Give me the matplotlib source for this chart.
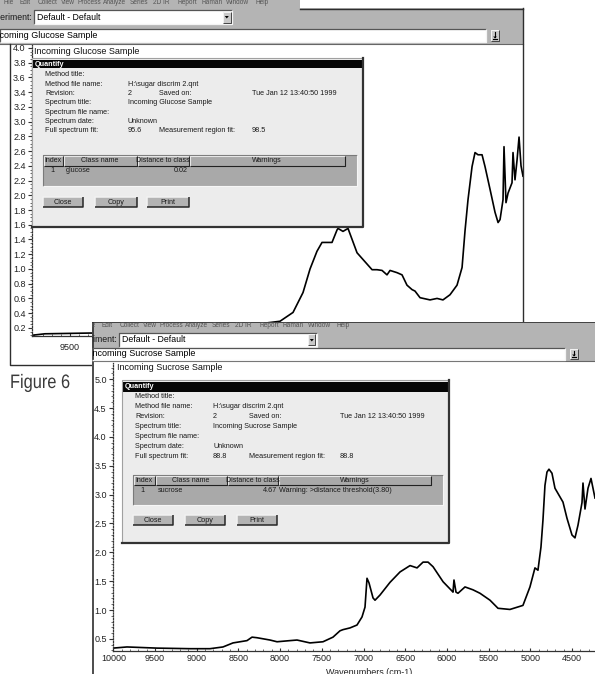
import numpy as np
import matplotlib
matplotlib.use('Agg')
import matplotlib.pyplot as plt
from matplotlib.patches import Rectangle, Polygon, PathPatch
from matplotlib.textpath import TextPath
from matplotlib.font_manager import FontProperties
from matplotlib.transforms import Affine2D
from matplotlib.ticker import MultipleLocator, FormatStrFormatter

W, H = 595, 674

# glucose NIR spectrum (wavenumber cm-1, absorbance)
glucose_wn = [9922, 9778, 9278, 8056, 7500, 7300, 7167, 7022, 6911, 6833,
              6756, 6700, 6589, 6533, 6522, 6467, 6411, 6311, 6144, 6089,
              6033, 5978, 5944, 5867, 5811, 5756, 5700, 5667, 5611, 5500,
              5422, 5356, 5278, 5200, 5144, 5111, 5078, 5033, 5000, 4967,
              4922, 4889, 4833, 4778, 4744, 4722, 4689, 4678, 4656, 4633,
              4589, 4578, 4556, 4533, 4511, 4489, 4467]
glucose_abs = [0.10, 0.12, 0.13, 0.13, 0.20, 0.27, 0.29, 0.41, 0.68, 1.00,
               1.24, 1.36, 1.36, 1.53, 1.55, 1.51, 1.55, 1.22, 0.99, 0.99,
               0.98, 0.92, 0.98, 0.95, 0.92, 0.78, 0.72, 0.70, 0.61, 0.58,
               0.60, 0.58, 0.65, 0.78, 1.02, 1.52, 1.94, 2.39, 2.58, 2.55,
               2.55, 2.39, 2.08, 1.77, 1.63, 1.67, 1.94, 2.66, 1.90, 2.03,
               2.17, 2.58, 2.21, 2.48, 2.79, 2.40, 2.26]

# sucrose NIR spectrum
sucrose_wn = [10004, 9836, 9476, 9080, 8841, 8685, 8565, 8397, 8337, 8277,
              8121, 8037, 7881, 7797, 7642, 7486, 7366, 7282, 7246, 7162,
              7078, 7018, 6982, 6958, 6934, 6886, 6862, 6802, 6682, 6562,
              6442, 6358, 6286, 6226, 6166, 6046, 5939, 5927, 5915, 5891,
              5867, 5783, 5687, 5603, 5483, 5387, 5244, 5088, 5004, 4944,
              4908, 4872, 4848, 4824, 4800, 4776, 4740, 4704, 4644, 4608,
              4560, 4500, 4464, 4428, 4380, 4368, 4344, 4308, 4272, 4248,
              4224]
sucrose_abs = [0.34, 0.36, 0.34, 0.33, 0.33, 0.36, 0.43, 0.47, 0.53, 0.52,
               0.48, 0.45, 0.47, 0.48, 0.43, 0.45, 0.53, 0.64, 0.66, 0.69,
               0.74, 0.88, 1.05, 1.55, 1.47, 1.21, 1.17, 1.26, 1.48, 1.66,
               1.77, 1.73, 1.83, 1.83, 1.75, 1.49, 1.33, 1.31, 1.52, 1.31,
               1.29, 1.40, 1.35, 1.29, 1.17, 1.03, 1.01, 1.08, 1.40, 1.73,
               1.69, 2.09, 2.56, 3.16, 3.39, 3.44, 3.37, 3.11, 2.96, 2.87,
               2.59, 2.30, 2.25, 2.47, 2.86, 3.20, 2.75, 3.11, 3.28, 3.11,
               2.94]

menu_items = ['File', 'Edit', 'Collect', 'View', 'Process', 'Analyze', 'Series',
              '2D IR', 'Report', 'Raman', 'Window', 'Help']
experiment = 'Default - Default'
glucose_title = 'Incoming Glucose Sample'
sucrose_title = 'Incoming Sucrose Sample'

field_names = ['Method title:', 'Method file name:', 'Revision:', 'Spectrum title:',
               'Spectrum file name:', 'Spectrum date:', 'Full spectrum fit:']
glucose_fields = ['', 'H:\\sugar discrim 2.qnt', '2', glucose_title, '', 'Unknown', '95.6']
sucrose_fields = ['', 'H:\\sugar discrim 2.qnt', '2', sucrose_title, '', 'Unknown', '88.8']
saved_on = 'Tue Jan 12 13:40:50 1999'
glucose_region_fit = '98.5'
sucrose_region_fit = '88.8'
table_cols = ['Index', 'Class name', 'Distance to class', 'Warnings']
glucose_row = ['1', 'glucose', '0.02', '']
sucrose_row = ['1', 'sucrose', '4.67', 'Warning: >distance threshold(3.80)']
button_names = ['Close', 'Copy', 'Print']

SANS = ['Liberation Sans', 'DejaVu Sans']
GRAY = '#b4b4b4'
DARK = '#2e2e2e'
SMALL = 5.2

fig = plt.figure(figsize=(W / 100, H / 100), dpi=100)
fig.patch.set_facecolor('white')


def rect_frac(x0, y0, x1, y1):
    return [x0 / W, 1 - y1 / H, (x1 - x0) / W, (y1 - y0) / H]


def overlay(x0, y0, x1, y1, z):
    ax = fig.add_axes(rect_frac(x0, y0, x1, y1))
    ax.set_xlim(x0, x1)
    ax.set_ylim(y1, y0)
    ax.axis('off')
    ax.set_zorder(z)
    return ax


def box(ax, x0, y0, x1, y1, fc, ec='none', lw=0.8):
    ax.add_patch(Rectangle((x0, y0), x1 - x0, y1 - y0, fc=fc, ec=ec, lw=lw))


def bevel(ax, x0, y0, x1, y1, light, dark, lw=0.9):
    ax.plot([x0, x0, x1], [y1, y0, y0], color=light, lw=lw, solid_capstyle='butt')
    ax.plot([x0, x1, x1], [y1, y1, y0], color=dark, lw=lw, solid_capstyle='butt')


def label(ax, x, y, s, size=SMALL, **kw):
    kw.setdefault('va', 'center')
    kw.setdefault('ha', 'left')
    kw.setdefault('color', '#1a1a1a')
    ax.text(x, y, s, fontsize=size, family=SANS, clip_on=True, **kw)


def window_chrome(ax, menu_x, menu_y, exp_y, combo, field, field_btn, title_x, title):
    for name, mx in zip(menu_items, menu_x):
        label(ax, mx, menu_y, name, size=4.7, color='#555555')
    label(ax, combo[0] - 2, exp_y, 'Experiment:', size=6.3, ha='right')
    cx0, cy0, cx1, cy1 = combo
    box(ax, cx0, cy0, cx1, cy1, 'white')
    bevel(ax, cx0, cy0, cx1, cy1, '#555555', '#f4f4f4')
    box(ax, cx1 - 9, cy0 + 1.5, cx1 - 1.5, cy1 - 1.5, '#c9c9c9')
    bevel(ax, cx1 - 9, cy0 + 1.5, cx1 - 1.5, cy1 - 1.5, '#f4f4f4', '#444444', lw=0.7)
    mx = cx1 - 5.2
    my = (cy0 + cy1) / 2
    ax.add_patch(Polygon([[mx - 2, my - 1], [mx + 2, my - 1], [mx, my + 1.5]], fc='black', ec='none'))
    label(ax, cx0 + 3, exp_y, experiment, size=6.3, color='black')
    fx0, fy0, fx1, fy1 = field
    box(ax, fx0, fy0, fx1, fy1, 'white')
    bevel(ax, fx0, fy0, fx1, fy1, '#555555', '#f4f4f4')
    label(ax, title_x, (fy0 + fy1) / 2, title, size=6.5, color='black')
    bx0, by0, bx1, by1 = field_btn
    box(ax, bx0, by0, bx1, by1, '#c9c9c9')
    bevel(ax, bx0, by0, bx1, by1, '#f4f4f4', '#444444', lw=0.7)
    xc = (bx0 + bx1) / 2
    ax.plot([xc, xc], [by0 + 2, by1 - 4], color='black', lw=0.8)
    ax.add_patch(Polygon([[xc - 1.8, by1 - 4.5], [xc + 1.8, by1 - 4.5], [xc, by1 - 2.5]],
                         fc='black', ec='none'))
    ax.plot([xc - 2, xc + 2], [by1 - 2, by1 - 2], color='black', lw=0.8)


def quantify(ax, lay, values, region_fit, row):
    x0, y0, x1, y1 = lay['frame']
    box(ax, x0, y0, x1, y1, '#ececec')
    ax.plot([x0, x0, x1], [y1, y0, y0], color='#a0a0a0', lw=0.8)
    ax.plot([x0, x1, x1], [y1, y1, y0], color='#333333', lw=1.6)
    b0, b1 = lay['bar']
    box(ax, x0 + 1, b0, x1 - 1, b1, '#050505')
    label(ax, x0 + 3, (b0 + b1) / 2, 'Quantify', color='white', weight='bold', size=5.2)

    c1, c2, c3, c4 = lay['cols']
    for i, (name, val) in enumerate(zip(field_names, values)):
        y = lay['row0'] + i * lay['dy']
        label(ax, c1, y, name)
        if val:
            label(ax, c2, y, val)
    y_rev = lay['row0'] + 2 * lay['dy']
    label(ax, c3, y_rev, 'Saved on:')
    label(ax, c4, y_rev, saved_on)
    y_fit = lay['row0'] + 6 * lay['dy']
    label(ax, c3, y_fit, 'Measurement region fit:')
    label(ax, c4, y_fit, region_fit)

    tx0, ty0, tx1, ty1 = lay['table']
    box(ax, tx0, ty0, tx1, ty1, '#a9a9a9')
    bevel(ax, tx0, ty0, tx1, ty1, '#7a7a7a', '#f6f6f6', lw=0.8)
    hy1 = ty0 + lay['head_h']
    edges = lay['cells']
    for name, cx0, cx1 in zip(table_cols, edges[:-1], edges[1:]):
        bevel(ax, cx0 + 0.5, ty0 + 0.5, cx1, hy1, '#e6e6e6', '#222222', lw=0.8)
        label(ax, (cx0 + cx1) / 2, (ty0 + hy1) / 2, name, ha='center', size=5.0)
    ry = lay['row_y']
    label(ax, edges[0] + 9, ry, row[0], ha='center')
    label(ax, edges[1] + 3, ry, row[1])
    label(ax, edges[3] - 1, ry, row[2], ha='right')
    if row[3]:
        label(ax, edges[3] + 1, ry, row[3])

    by0, by1 = lay['btn_y']
    for name, (bx0, bx1) in zip(button_names, lay['btn_x']):
        box(ax, bx0, by0, bx1, by1, '#b3b3b3')
        bevel(ax, bx0, by0, bx1, by1, '#f2f2f2', '#262626', lw=1.1)
        label(ax, (bx0 + bx1) / 2, (by0 + by1) / 2, name, ha='center')


def style_spectrum_axes(ax, ymajor, yminor):
    for side in ('top', 'right'):
        ax.spines[side].set_visible(False)
    ax.spines['left'].set_linestyle((0, (1, 1.3)))
    ax.spines['left'].set_linewidth(0.9)
    ax.spines['left'].set_color('#333333')
    ax.spines['bottom'].set_linewidth(0.9)
    ax.spines['bottom'].set_color('#333333')
    ax.yaxis.set_major_locator(MultipleLocator(ymajor))
    ax.yaxis.set_minor_locator(MultipleLocator(yminor))
    ax.yaxis.set_major_formatter(FormatStrFormatter('%.1f'))
    ax.xaxis.set_major_locator(MultipleLocator(500))
    ax.xaxis.set_minor_locator(MultipleLocator(100))
    ax.tick_params(axis='y', which='major', direction='out', length=3, width=0.8,
                   labelsize=6.5, pad=1.5, colors='#333333', labelcolor='#222222')
    ax.tick_params(axis='y', which='minor', direction='out', length=1.2, width=0.6, colors='#555555')
    ax.tick_params(axis='x', which='major', direction='in', length=2.5, width=0.8,
                   labelsize=6.5, colors='#333333', labelcolor='#222222')
    ax.tick_params(axis='x', which='minor', direction='in', length=1.6, width=0.6, colors='#555555')
    for t in ax.get_xticklabels() + ax.get_yticklabels():
        t.set_family(SANS)


# ---- glucose window (behind) ----
win1 = overlay(0, 0, W, H, 0)
box(win1, 0, 0, 300, 9, GRAY)
box(win1, 0, 8, 523, 44, GRAY)
win1.plot([300, 523], [8.5, 8.5], color=DARK, lw=1)
win1.plot([0, 523], [44, 44], color='#666666', lw=0.8)
win1.plot([523, 523], [8, 323], color=DARK, lw=1)
win1.plot([10, 10, 92], [44, 365, 365], color=DARK, lw=1)
window_chrome(win1, [3, 20, 38, 61, 78, 103, 130, 153, 178, 201, 226, 255], 2.5, 17,
              (34, 10, 232, 24), (0, 29, 486, 42), (491, 30, 499, 41), -8, glucose_title)
label(win1, 34, 52, glucose_title, size=6.5, color='#111111')

ax_top = fig.add_axes(rect_frac(32, 45, 523, 336))
ax_top.set_zorder(1)
ax_top.patch.set_visible(False)
ax_top.plot(glucose_wn, glucose_abs, color='black', lw=1.2)
ax_top.set_xlim(9922, 4467)
ax_top.set_ylim(0.09, 4.04)
style_spectrum_axes(ax_top, 0.2, 0.05)
ax_top.tick_params(axis='x', which='major', pad=5)
ax_top.set_yticks(np.arange(0.2, 4.01, 0.2))

dlg1 = overlay(0, 0, W, H, 2)
quantify(dlg1, dict(frame=(32, 58, 363, 227), bar=(60, 68), cols=(45, 128, 159, 252),
                    row0=75, dy=9.3, table=(43, 155, 357, 186), head_h=11,
                    cells=(43, 63, 137, 189, 345), row_y=171, btn_y=(197, 207),
                    btn_x=((43, 83), (95, 137), (147, 189))),
         glucose_fields, glucose_region_fit, glucose_row)

# ---- sucrose window (front) ----
win2 = overlay(92, 322, W, H, 3)
box(win2, 92, 322, W, H, 'white')
box(win2, 92, 322, W, 361, GRAY)
win2.plot([92, W], [322.5, 322.5], color=DARK, lw=1.2)
win2.plot([92.6, 92.6], [322, H], color=DARK, lw=1.2)
win2.plot([92, W], [361, 361], color='#666666', lw=0.8)
window_chrome(win2, [86, 102, 120, 143, 160, 185, 212, 235, 260, 283, 308, 337], 326, 340,
              (119, 333, 317, 347), (92, 348, 565, 360), (570, 349, 578, 359), 89.5, sucrose_title)
label(win2, 117, 368, sucrose_title, size=6.5, color='#111111')

ax_bot = fig.add_axes(rect_frac(113, 363, W, 651))
ax_bot.set_zorder(4)
ax_bot.patch.set_visible(False)
ax_bot.plot(sucrose_wn, sucrose_abs, color='black', lw=1.2)
ax_bot.set_xlim(10004, 4224)
ax_bot.set_ylim(0.29, 5.28)
style_spectrum_axes(ax_bot, 0.5, 0.1)
ax_bot.tick_params(axis='x', which='major', pad=2.5)
ax_bot.set_xlabel('Wavenumbers (cm-1)', fontsize=6.5, family=SANS, color='#222222')
ax_bot.xaxis.set_label_coords(0.531, -0.059)

dlg2 = overlay(0, 0, W, H, 5)
quantify(dlg2, dict(frame=(122, 380, 449, 543), bar=(382, 392), cols=(135, 213, 249, 340),
                    row0=397, dy=10, table=(133, 475, 443, 505), head_h=10,
                    cells=(133, 155, 227, 278, 431), row_y=490, btn_y=(515, 525),
                    btn_x=((133, 173), (185, 225), (237, 277))),
         sucrose_fields, sucrose_region_fit, sucrose_row)

# caption in a condensed face: squeeze the glyph outlines horizontally
cap = overlay(0, 0, W, H, 6)
cap_path = TextPath((0, 0), 'Figure 6', size=19.5, prop=FontProperties(family=SANS))
cap_path = Affine2D().scale(0.84, -1).translate(10, 388).transform_path(cap_path)
cap.add_patch(PathPatch(cap_path, fc='#3a3a3a', ec='none'))

fig.savefig('out.png', dpi=100)
